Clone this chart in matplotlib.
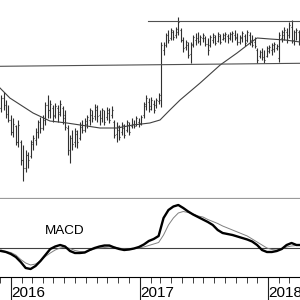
import matplotlib
matplotlib.use('Agg')
import matplotlib.pyplot as plt
import matplotlib.dates as mdates
import pandas as pd

# ---------------- data ----------------
weeks = pd.date_range('2015-12-04', periods=122, freq='7D')

opens = [19.2, 20.2, 19.5, 18.7, 18.0, 16.8, 17.4, 15.8, 15.8, 14.0,
         13.2, 14.5, 14.4, 15.6, 16.0, 16.8, 17.5, 17.2, 18.0, 19.5,
         19.0, 19.2, 18.5, 19.2, 18.8, 19.2, 18.5, 17.2, 15.0, 16.2,
         15.8, 16.6, 16.2, 17.3, 17.0, 17.6, 18.0, 18.5, 18.4, 19.0,
         18.5, 18.2, 18.6, 18.3, 18.7, 18.5, 17.8, 16.6, 17.0, 16.8,
         17.2, 17.0, 17.5, 17.4, 17.6, 17.6, 17.8, 17.7, 18.5, 19.4,
         19.8, 19.4, 19.6, 19.5, 19.9, 20.0, 25.0, 25.5, 26.2, 26.2,
         26.8, 26.5, 26.8, 27.0, 26.0, 25.3, 25.5, 24.6, 25.5, 26.0,
         26.2, 25.8, 26.2, 26.2, 25.6, 25.5, 26.0, 26.3, 25.9, 26.4,
         26.1, 26.2, 26.4, 26.2, 26.3, 26.5, 26.3, 25.8, 26.2, 26.4,
         26.0, 26.5, 26.0, 25.8, 25.0, 24.4, 24.8, 24.3, 24.4, 24.9,
         25.0, 25.1, 25.2, 24.2, 26.2, 26.5, 26.8, 26.5, 27.3, 26.0,
         26.5, 26.8]
highs = [20.5, 20.8, 20.0, 19.5, 18.5, 18.2, 17.5, 18.0, 16.0, 15.5,
         15.0, 14.8, 16.0, 16.5, 17.2, 18.0, 18.3, 18.5, 19.8, 20.5,
         20.0, 19.5, 19.7, 19.5, 20.0, 19.4, 19.0, 17.5, 16.5, 17.0,
         17.2, 17.0, 17.8, 18.0, 18.2, 18.5, 19.2, 19.0, 19.6, 19.5,
         19.0, 19.2, 19.0, 19.3, 19.2, 19.4, 18.0, 17.8, 17.5, 17.8,
         17.6, 18.0, 17.8, 18.2, 18.0, 18.4, 18.2, 18.5, 19.8, 20.5,
         20.2, 20.3, 20.0, 20.2, 20.7, 25.8, 25.8, 26.7, 27.0, 27.2,
         27.0, 27.3, 28.3, 27.2, 26.3, 26.0, 25.8, 25.8, 26.5, 26.7,
         26.8, 26.5, 26.7, 26.4, 26.2, 26.5, 26.7, 26.5, 26.8, 26.6,
         26.7, 26.8, 26.6, 26.8, 26.9, 27.0, 26.7, 26.5, 26.9, 26.6,
         27.0, 26.8, 26.5, 26.3, 25.2, 25.0, 25.2, 25.0, 25.4, 25.5,
         25.7, 25.8, 25.6, 26.8, 27.0, 27.3, 27.2, 27.8, 28.0, 27.0,
         27.2, 27.0]
lows = [18.8, 19.0, 18.2, 17.8, 16.5, 16.3, 15.5, 15.3, 13.5, 11.9,
        12.8, 13.2, 14.2, 15.0, 15.5, 16.2, 16.7, 17.0, 17.5, 18.2,
        18.2, 17.8, 18.2, 17.8, 18.4, 17.6, 17.0, 14.5, 13.7, 15.0,
        15.3, 15.2, 16.0, 16.7, 16.8, 17.2, 17.5, 17.8, 18.0, 17.8,
        17.5, 17.8, 17.5, 18.0, 17.7, 18.2, 16.2, 15.8, 16.0, 16.5,
        16.2, 16.8, 16.5, 17.2, 17.2, 17.4, 17.3, 17.5, 18.2, 19.0,
        18.8, 19.0, 18.7, 19.2, 19.6, 19.3, 24.5, 25.3, 25.7, 26.0,
        26.0, 26.2, 26.5, 25.8, 24.8, 25.0, 24.2, 23.7, 25.3, 25.5,
        25.7, 25.5, 25.8, 25.4, 24.5, 25.3, 25.7, 25.5, 25.8, 25.6,
        26.0, 25.8, 25.7, 26.0, 25.8, 26.0, 25.5, 25.6, 25.8, 25.4,
        25.8, 25.5, 25.3, 25.2, 23.7, 24.2, 24.0, 23.7, 24.3, 24.7,
        24.5, 24.8, 25.0, 23.8, 25.8, 26.0, 25.7, 26.2, 25.7, 25.5,
        26.0, 25.5]
closes = [20.2, 19.4, 18.6, 18.0, 16.8, 17.6, 15.8, 17.5, 14.0, 13.2,
          14.5, 14.0, 15.8, 16.2, 17.0, 17.8, 17.2, 18.2, 19.5, 19.0,
          19.6, 18.4, 19.4, 18.6, 19.6, 18.2, 17.3, 15.0, 16.2, 15.6,
          16.9, 15.8, 17.5, 17.0, 17.9, 18.3, 19.0, 18.2, 19.3, 18.4,
          18.0, 19.0, 17.8, 19.0, 18.0, 19.0, 16.5, 17.4, 16.3, 17.5,
          16.5, 17.8, 16.8, 18.0, 17.4, 18.2, 17.6, 18.3, 19.6, 20.2,
          19.1, 20.0, 19.0, 20.0, 20.5, 25.5, 25.6, 26.5, 26.0, 27.0,
          26.3, 27.1, 27.8, 26.0, 25.2, 25.8, 24.5, 25.6, 26.3, 26.5,
          25.9, 26.3, 26.5, 25.6, 25.0, 26.3, 26.5, 25.7, 26.6, 25.8,
          26.5, 26.6, 25.9, 26.6, 26.7, 26.2, 25.8, 26.3, 26.7, 25.7,
          26.8, 25.8, 25.5, 25.4, 24.0, 24.8, 24.3, 24.0, 25.2, 25.3,
          25.5, 25.6, 25.4, 26.5, 26.8, 27.0, 26.0, 27.5, 26.2, 26.8,
          27.0, 26.0]

ma_dates = pd.to_datetime(['2015-12-01', '2015-12-29', '2016-03-04', '2016-04-21',
                           '2016-06-08', '2016-08-04', '2016-09-10', '2016-10-29',
                           '2016-12-13', '2017-01-30', '2017-02-28', '2017-03-28',
                           '2017-04-26', '2017-06-22', '2017-08-18', '2017-10-05',
                           '2017-11-11', '2017-12-01', '2018-01-07', '2018-02-19',
                           '2018-04-02'])
ma_values = [21.2, 20.2, 18.7, 17.9, 17.7, 17.4, 17.2, 17.2, 17.5, 17.7, 18.0,
             19.0, 20.0, 21.7, 23.5, 24.7, 25.7, 26.2, 26.1, 26.0, 25.8]

support_dates = pd.to_datetime(['2015-12-01', '2018-04-02'])
support_values = [23.37, 23.67]
resist_dates = pd.to_datetime(['2017-01-25', '2018-04-02'])
resist_values = [27.92, 27.92]

macd_dates = weeks[::2].append(weeks[-1:])
macd_values = [-0.06, -0.08, -0.12, -0.18, -0.28, -0.40, -0.42, -0.36, -0.26, -0.14,
               -0.02, 0.03, 0.06, 0.03, -0.06, -0.10, -0.10, -0.09, -0.04, 0.00,
               0.03, 0.05, 0.05, 0.01, -0.02, -0.04, -0.03, -0.01, 0.02, 0.07,
               0.14, 0.18, 0.24, 0.60, 0.76, 0.83, 0.86, 0.80, 0.73, 0.67,
               0.62, 0.57, 0.52, 0.46, 0.36, 0.30, 0.28, 0.26, 0.23, 0.20,
               0.17, 0.13, 0.06, -0.04, -0.08, -0.08, -0.06, -0.02, 0.06, 0.10,
               0.06, 0.06]
signal_values = [-0.04, -0.07, -0.09, -0.14, -0.23, -0.30, -0.34, -0.32, -0.26, -0.17,
                 -0.10, -0.04, 0.00, 0.02, -0.01, -0.05, -0.07, -0.08, -0.05, -0.02,
                 0.00, 0.01, 0.02, 0.02, 0.00, -0.02, -0.02, -0.01, 0.00, 0.02,
                 0.05, 0.08, 0.11, 0.26, 0.46, 0.60, 0.70, 0.73, 0.71, 0.68,
                 0.64, 0.62, 0.57, 0.53, 0.49, 0.44, 0.40, 0.36, 0.32, 0.28,
                 0.24, 0.18, 0.12, 0.06, 0.00, -0.03, -0.04, -0.02, 0.02, 0.04,
                 0.05, 0.06]

year_ticks = pd.to_datetime(['2016-01-01', '2017-01-01', '2018-01-01'])
year_labels = ['2016', '2017', '2018']
panel_label = 'MACD'

# ---------------- figure ----------------
plt.rcParams['font.family'] = ['Liberation Sans', 'DejaVu Sans']
fig = plt.figure(figsize=(3, 3), dpi=100)
ax = fig.add_axes([0, 1 - 198.5 / 300, 1, 198.5 / 300])
ax2 = fig.add_axes([0, 23 / 300, 1, 78 / 300])

xmin, xmax = mdates.date2num(pd.Timestamp('2015-12-01')), mdates.date2num(pd.Timestamp('2018-04-02'))

# price panel
x = mdates.date2num(weeks)
bar_col = '#303030'
ax.vlines(x, lows, highs, color=bar_col, lw=0.8)
ax.hlines(opens, x - 2.6, x, color=bar_col, lw=0.8)
ax.hlines(closes, x, x + 2.6, color=bar_col, lw=0.8)
ax.plot(ma_dates, ma_values, color='#404040', lw=0.8)
ax.plot(support_dates, support_values, color='#505050', lw=0.8)
ax.plot(resist_dates, resist_values, color='#505050', lw=0.8)
ax.set_xlim(xmin, xmax)
ax.set_ylim(10.15, 30)
ax.set_xticks([])
ax.set_yticks([])
for s in ['top', 'left', 'right']:
    ax.spines[s].set_visible(False)
ax.spines['bottom'].set_color('#9a9a9a')
ax.spines['bottom'].set_linewidth(1.6)

# MACD panel
ax2.axhline(0, color='#404040', lw=0.8)
ax2.plot(macd_dates, signal_values, color='#808080', lw=0.7)
ax2.plot(macd_dates, macd_values, color='black', lw=1.7)
ax2.set_xlim(xmin, xmax)
ax2.set_ylim(-0.58, 0.98)
ax2.set_yticks([])
for s in ['top', 'left', 'right']:
    ax2.spines[s].set_visible(False)
ax2.spines['bottom'].set_color('black')
ax2.spines['bottom'].set_linewidth(0.8)
ax2.set_xticks(mdates.date2num(year_ticks))
ax2.set_xticklabels([])
ax2.xaxis.set_minor_locator(mdates.MonthLocator())
ax2.tick_params(axis='x', which='major', length=16.5, width=0.8, direction='out', color='#202020')
ax2.tick_params(axis='x', which='minor', length=4.3, width=0.7, direction='out', color='#404040')
for d, lab in zip(year_ticks, year_labels):
    ax2.text(mdates.date2num(d) + 2, -0.26, lab, transform=ax2.get_xaxis_transform(),
             ha='left', va='baseline', fontsize=11, color='black')
ax2.text(0.15, 0.551, panel_label, transform=ax2.transAxes, ha='left', va='baseline',
         fontsize=9.7, color='black')

fig.savefig('out.png', dpi=100)
